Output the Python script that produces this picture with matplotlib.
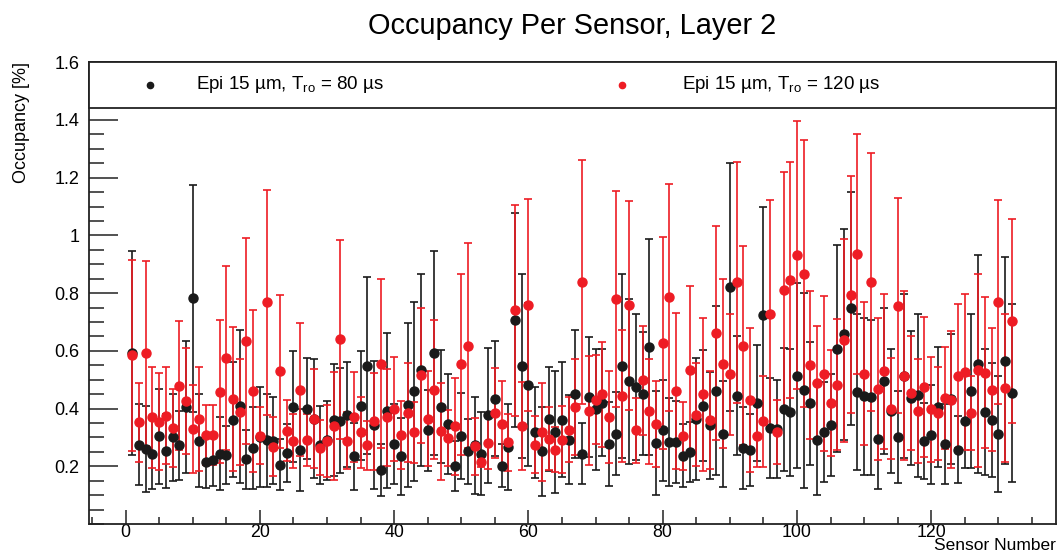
import matplotlib
matplotlib.use('Agg')
import matplotlib.pyplot as plt
from matplotlib.patches import Rectangle
from matplotlib.ticker import MultipleLocator, FixedLocator, FixedFormatter

plt.rcParams['font.family'] = ['Liberation Sans', 'DejaVu Sans']
plt.rcParams['mathtext.fontset'] = 'custom'
plt.rcParams['mathtext.rm'] = 'Liberation Sans'
plt.rcParams['mathtext.it'] = 'Liberation Sans:italic'

# sensor numbers 1..132
sensors = list(range(1, 133))

# Epi 15 um, T_ro = 80 us
occ_80 = [
    0.593, 0.275, 0.260, 0.244, 0.304, 0.253, 0.300, 0.272, 0.405, 0.782,
    0.289, 0.215, 0.221, 0.244, 0.238, 0.362, 0.408, 0.224, 0.264, 0.301,
    0.290, 0.289, 0.206, 0.247, 0.407, 0.255, 0.400, 0.365, 0.273, 0.290,
    0.360, 0.358, 0.379, 0.235, 0.410, 0.549, 0.342, 0.188, 0.393, 0.277,
    0.234, 0.412, 0.460, 0.535, 0.325, 0.592, 0.407, 0.345, 0.202, 0.306,
    0.252, 0.272, 0.244, 0.376, 0.434, 0.202, 0.267, 0.706, 0.547, 0.483,
    0.318, 0.252, 0.364, 0.318, 0.362, 0.292, 0.451, 0.244, 0.440, 0.397,
    0.420, 0.277, 0.312, 0.547, 0.495, 0.475, 0.452, 0.613, 0.281, 0.324,
    0.284, 0.284, 0.237, 0.250, 0.364, 0.410, 0.342, 0.462, 0.313, 0.822,
    0.445, 0.264, 0.255, 0.418, 0.724, 0.333, 0.329, 0.397, 0.387, 0.514,
    0.464, 0.418, 0.292, 0.319, 0.342, 0.608, 0.657, 0.747, 0.457, 0.443,
    0.439, 0.296, 0.495, 0.391, 0.301, 0.514, 0.437, 0.446, 0.287, 0.310,
    0.405, 0.277, 0.434, 0.258, 0.358, 0.460, 0.555, 0.387, 0.360, 0.312,
    0.566, 0.454,
]
err_80 = [
    0.354, 0.141, 0.150, 0.123, 0.165, 0.128, 0.150, 0.121, 0.230, 0.393,
    0.160, 0.090, 0.090, 0.125, 0.100, 0.200, 0.265, 0.102, 0.143, 0.172,
    0.162, 0.150, 0.087, 0.100, 0.192, 0.142, 0.176, 0.205, 0.136, 0.136,
    0.194, 0.182, 0.183, 0.116, 0.190, 0.306, 0.222, 0.090, 0.270, 0.139,
    0.132, 0.285, 0.310, 0.333, 0.140, 0.354, 0.197, 0.173, 0.087, 0.149,
    0.112, 0.168, 0.144, 0.233, 0.200, 0.074, 0.148, 0.370, 0.320, 0.283,
    0.157, 0.155, 0.179, 0.212, 0.200, 0.154, 0.222, 0.107, 0.207, 0.210,
    0.186, 0.146, 0.144, 0.320, 0.286, 0.254, 0.214, 0.373, 0.179, 0.175,
    0.152, 0.142, 0.110, 0.103, 0.211, 0.193, 0.186, 0.292, 0.184, 0.430,
    0.205, 0.143, 0.125, 0.201, 0.375, 0.173, 0.170, 0.214, 0.221, 0.321,
    0.338, 0.213, 0.191, 0.172, 0.176, 0.358, 0.366, 0.405, 0.269, 0.272,
    0.268, 0.176, 0.254, 0.216, 0.159, 0.284, 0.231, 0.282, 0.131, 0.173,
    0.208, 0.140, 0.226, 0.117, 0.163, 0.266, 0.378, 0.219, 0.197, 0.202,
    0.358, 0.309,
]

# Epi 15 um, T_ro = 120 us
occ_120 = [
    0.584, 0.353, 0.591, 0.369, 0.355, 0.375, 0.333, 0.479, 0.427, 0.329,
    0.363, 0.309, 0.309, 0.459, 0.575, 0.434, 0.388, 0.634, 0.461, 0.306,
    0.769, 0.267, 0.529, 0.323, 0.288, 0.466, 0.292, 0.365, 0.264, 0.287,
    0.339, 0.640, 0.289, 0.370, 0.318, 0.273, 0.356, 0.555, 0.370, 0.397,
    0.308, 0.386, 0.318, 0.516, 0.365, 0.466, 0.321, 0.298, 0.339, 0.553,
    0.618, 0.269, 0.214, 0.279, 0.383, 0.345, 0.283, 0.740, 0.339, 0.758,
    0.275, 0.318, 0.296, 0.258, 0.292, 0.327, 0.405, 0.839, 0.393, 0.431,
    0.449, 0.370, 0.779, 0.443, 0.758, 0.325, 0.498, 0.391, 0.345, 0.628,
    0.786, 0.460, 0.304, 0.535, 0.379, 0.449, 0.360, 0.662, 0.555, 0.518,
    0.838, 0.618, 0.429, 0.306, 0.356, 0.726, 0.318, 0.810, 0.845, 0.933,
    0.868, 0.550, 0.489, 0.521, 0.420, 0.483, 0.636, 0.795, 0.936, 0.520,
    0.838, 0.469, 0.529, 0.400, 0.757, 0.514, 0.454, 0.391, 0.474, 0.397,
    0.383, 0.437, 0.431, 0.512, 0.527, 0.385, 0.532, 0.524, 0.466, 0.770,
    0.472, 0.703,
]
err_120 = [
    0.330, 0.137, 0.320, 0.176, 0.167, 0.168, 0.136, 0.223, 0.183, 0.151,
    0.180, 0.103, 0.105, 0.249, 0.320, 0.249, 0.184, 0.357, 0.281, 0.099,
    0.390, 0.102, 0.265, 0.105, 0.093, 0.230, 0.090, 0.171, 0.095, 0.125,
    0.187, 0.344, 0.100, 0.155, 0.123, 0.085, 0.168, 0.293, 0.168, 0.180,
    0.118, 0.171, 0.105, 0.234, 0.164, 0.241, 0.168, 0.097, 0.168, 0.315,
    0.356, 0.098, 0.017, 0.090, 0.156, 0.150, 0.099, 0.365, 0.153, 0.367,
    0.100, 0.170, 0.109, 0.077, 0.116, 0.113, 0.165, 0.422, 0.190, 0.154,
    0.183, 0.160, 0.375, 0.229, 0.362, 0.112, 0.188, 0.182, 0.149, 0.368,
    0.393, 0.270, 0.118, 0.289, 0.179, 0.266, 0.170, 0.370, 0.293, 0.210,
    0.418, 0.344, 0.249, 0.110, 0.157, 0.395, 0.110, 0.410, 0.409, 0.464,
    0.463, 0.256, 0.196, 0.268, 0.184, 0.228, 0.353, 0.410, 0.416, 0.248,
    0.448, 0.246, 0.269, 0.176, 0.374, 0.293, 0.197, 0.181, 0.243, 0.183,
    0.162, 0.177, 0.237, 0.250, 0.270, 0.127, 0.333, 0.262, 0.213, 0.354,
    0.257, 0.354,
]

y_ticks = [0.2, 0.4, 0.6, 0.8, 1.0, 1.2, 1.4, 1.6]
y_ticklabels = ['0.2', '0.4', '0.6', '0.8', '1', '1.2', '1.4', '1.6']

black = '#1a1a1a'
red = '#ee1c24'

fig = plt.figure(figsize=(10.6, 5.56), dpi=100)
ax = fig.add_axes([0.0843, 0.0576, 0.912, 0.8304])

ax.errorbar(sensors, occ_80, yerr=err_80, fmt='o', color=black, ms=6.5,
            elinewidth=1.2, capsize=3.2, capthick=1.2, zorder=3)
ax.errorbar(sensors, occ_120, yerr=err_120, fmt='o', color=red, ms=6.5,
            elinewidth=1.2, capsize=3.2, capthick=1.2, zorder=3)

ax.set_xlim(-5.4, 138.6)
ax.set_ylim(0, 1.6)

ax.xaxis.set_major_locator(MultipleLocator(20))
ax.xaxis.set_minor_locator(MultipleLocator(5))
ax.yaxis.set_major_locator(FixedLocator(y_ticks))
ax.yaxis.set_major_formatter(FixedFormatter(y_ticklabels))
ax.yaxis.set_minor_locator(MultipleLocator(0.05))
ax.tick_params(axis='both', which='both', direction='in', top=False, right=False,
               labelsize=13, width=1.1, color='#222222')
ax.tick_params(axis='x', which='major', length=10, pad=0.3, labelsize=12.8)
ax.tick_params(axis='x', which='minor', length=5)
ax.tick_params(axis='y', which='major', length=21, pad=7)
ax.tick_params(axis='y', which='minor', length=10.5)
for s in ax.spines.values():
    s.set_linewidth(1.3)
    s.set_color('#222222')

ax.set_xlabel('Sensor Number', fontsize=12.5, loc='right', labelpad=-2.6)
ax.set_ylabel('Occupancy [%]', fontsize=13, loc='top', labelpad=18)

# legend box across the top of the frame
legend_bottom = 1.443 / 1.6
ax.add_patch(Rectangle((0, legend_bottom), 1, 1 - legend_bottom, transform=ax.transAxes,
                       facecolor='white', edgecolor='#222222', linewidth=1.3,
                       zorder=5, clip_on=False))
ax.plot([0.0628], [0.951], 'o', color=black, ms=4.5, transform=ax.transAxes,
        zorder=6, clip_on=False)
ax.text(0.110, 0.951, 'Epi 15 µm, T$_{\\rm ro}$ = 80 µs', transform=ax.transAxes,
        fontsize=13.5, va='center', ha='left', zorder=6)
ax.plot([0.551], [0.951], 'o', color=red, ms=4.5, transform=ax.transAxes,
        zorder=6, clip_on=False)
ax.text(0.613, 0.951, 'Epi 15 µm, T$_{\\rm ro}$ = 120 µs', transform=ax.transAxes,
        fontsize=13.5, va='center', ha='left', zorder=6)

fig.text(0.540, 1 - 26 / 556, 'Occupancy Per Sensor, Layer 2', fontsize=20.8,
         ha='center', va='center')

fig.savefig('out.png', dpi=100)
